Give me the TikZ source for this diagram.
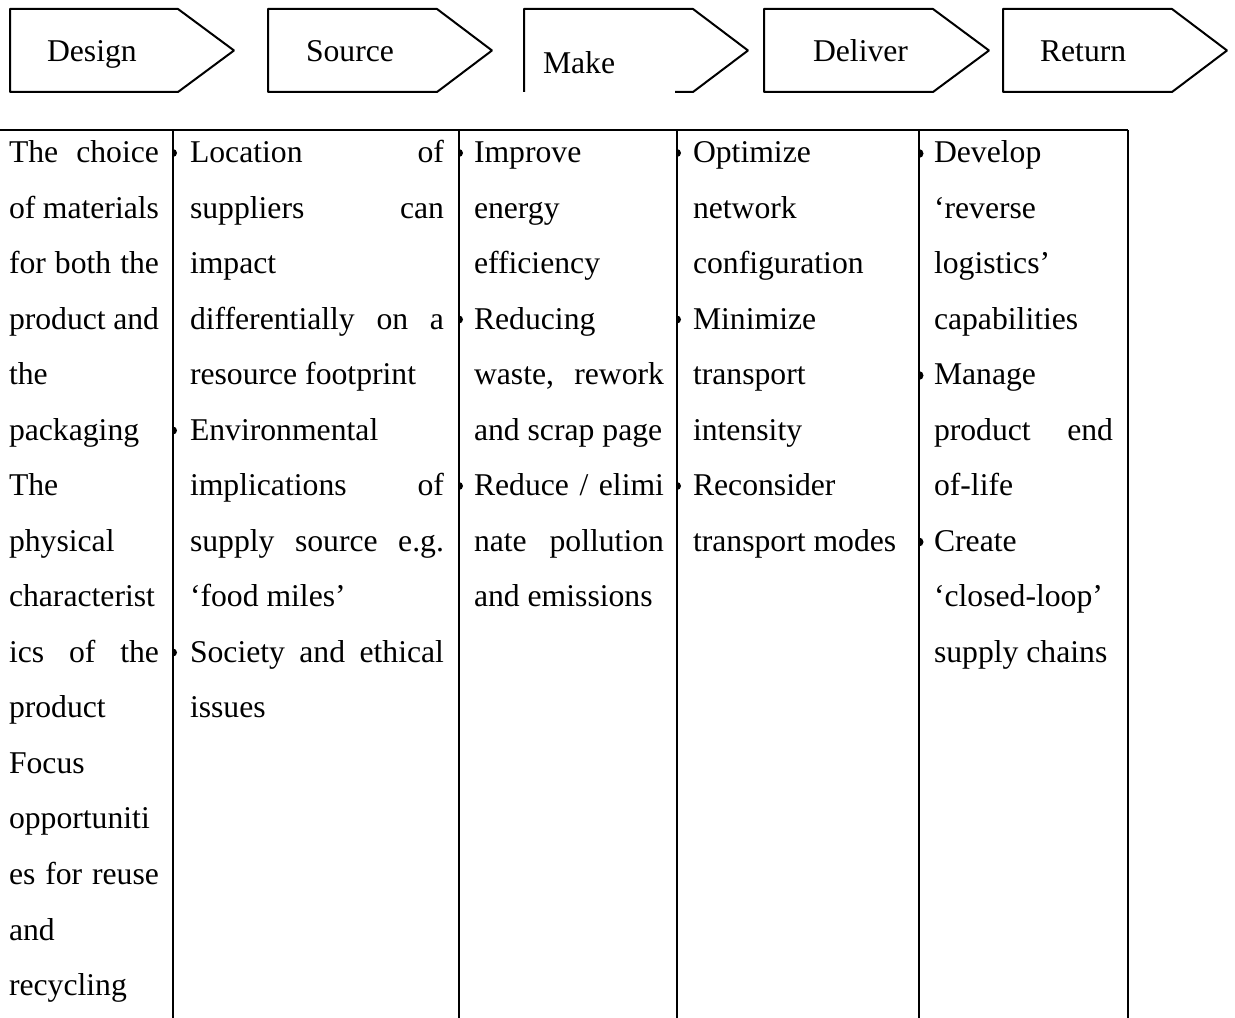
\documentclass[tikz,border=0pt]{standalone}
\usepackage{fontspec}
\setmainfont{Liberation Serif}
\usetikzlibrary{arrows}

\newcommand{\cellfont}{\fontsize{15.9}{19}\selectfont}
\newcommand{\fullline}[2]{\makebox[#1][s]{#2}}

\begin{document}
\begin{tikzpicture}[>=latex',line join=bevel,
  cell/.style={anchor=base west,inner sep=0pt,font=\cellfont},
  rule/.style={line width=1bp},
  dot/.style={fill=black}]
\pgfsetlinewidth{1bp}
\pgfsetcolor{black}
\useasboundingbox (0bp,0bp) rectangle (617.5bp,509bp);

% Step: Design
\draw (5bp,504.5bp) -- (89bp,504.5bp) -- (117bp,483.75bp) -- (89bp,463bp) -- (5bp,463bp) -- cycle;
\node[cell] (design) at (23bp,478bp) {Design};

% Step: Source
\draw (134bp,504.5bp) -- (218.5bp,504.5bp) -- (246bp,483.75bp) -- (218.5bp,463bp) -- (134bp,463bp) -- cycle;
\node[cell] (source) at (152.5bp,478bp) {Source};

% Step: Make
\draw (337.5bp,463bp) -- (346.5bp,463bp) -- (374bp,483.75bp) -- (346.5bp,504.5bp) -- (262bp,504.5bp) -- (262bp,463bp);
\node[cell] (make) at (271bp,472bp) {Make};

% Step: Deliver
\draw (382bp,504.5bp) -- (466.5bp,504.5bp) -- (494.5bp,483.75bp) -- (466.5bp,463bp) -- (382bp,463bp) -- cycle;
\node[cell] (deliver) at (406bp,478bp) {Deliver};

% Step: Return
\draw (501.5bp,504.5bp) -- (586bp,504.5bp) -- (613.5bp,483.75bp) -- (586bp,463bp) -- (501.5bp,463bp) -- cycle;
\node[cell] (return) at (519.5bp,478bp) {Return};

% Table rules
\draw[rule] (0bp,444bp) -- (564bp,444bp);
\draw[rule] (86.5bp,444bp) -- (86.5bp,0bp);
\draw[rule] (229.5bp,444bp) -- (229.5bp,0bp);
\draw[rule] (338.5bp,444bp) -- (338.5bp,0bp);
\draw[rule] (459.5bp,444bp) -- (459.5bp,0bp);
\draw[rule] (564bp,444bp) -- (564bp,0bp);

% Column: Design
\node[cell] (d1) at (4bp,427.5bp) {\fullline{75bp}{The choice}};
\node[cell] (d2) at (4bp,399.75bp) {\fullline{75bp}{of materials}};
\node[cell] (d3) at (4bp,372bp) {\fullline{75bp}{for both the}};
\node[cell] (d4) at (4bp,344.25bp) {\fullline{75bp}{product and}};
\node[cell] (d5) at (4bp,316.5bp) {the};
\node[cell] (d6) at (4bp,288.75bp) {packaging};
\node[cell] (d7) at (4bp,261bp) {The};
\node[cell] (d8) at (4bp,233.25bp) {physical};
\node[cell] (d9) at (4bp,205.5bp) {characterist};
\node[cell] (d10) at (4bp,177.75bp) {\fullline{75bp}{ics of the}};
\node[cell] (d11) at (4bp,150bp) {product};
\node[cell] (d12) at (4bp,122.25bp) {Focus};
\node[cell] (d13) at (4bp,94.5bp) {opportuniti};
\node[cell] (d14) at (4bp,66.75bp) {\fullline{75bp}{es for reuse}};
\node[cell] (d15) at (4bp,39bp) {and};
\node[cell] (d16) at (4bp,11.25bp) {recycling};

% Column: Source
\fill[dot] (86.5bp,434.5bp) arc[start angle=90,end angle=-90,radius=2bp] -- cycle;
\fill[dot] (86.5bp,295.75bp) arc[start angle=90,end angle=-90,radius=2bp] -- cycle;
\fill[dot] (86.5bp,184.75bp) arc[start angle=90,end angle=-90,radius=2bp] -- cycle;
\node[cell] (s1) at (94.5bp,427.5bp) {\fullline{127bp}{Location of}};
\node[cell] (s2) at (94.5bp,399.75bp) {\fullline{127bp}{suppliers can}};
\node[cell] (s3) at (94.5bp,372bp) {impact};
\node[cell] (s4) at (94.5bp,344.25bp) {\fullline{127bp}{differentially on a}};
\node[cell] (s5) at (94.5bp,316.5bp) {resource footprint};
\node[cell] (s6) at (94.5bp,288.75bp) {Environmental};
\node[cell] (s7) at (94.5bp,261bp) {\fullline{127bp}{implications of}};
\node[cell] (s8) at (94.5bp,233.25bp) {\fullline{127bp}{supply source e.g.}};
\node[cell] (s9) at (94.5bp,205.5bp) {‘food miles’};
\node[cell] (s10) at (94.5bp,177.75bp) {\fullline{127bp}{Society and ethical}};
\node[cell] (s11) at (94.5bp,150bp) {issues};

% Column: Make
\fill[dot] (229.5bp,434.5bp) arc[start angle=90,end angle=-90,radius=2bp] -- cycle;
\fill[dot] (229.5bp,351.25bp) arc[start angle=90,end angle=-90,radius=2bp] -- cycle;
\fill[dot] (229.5bp,268bp) arc[start angle=90,end angle=-90,radius=2bp] -- cycle;
\node[cell] (m1) at (236.5bp,427.5bp) {Improve};
\node[cell] (m2) at (236.5bp,399.75bp) {energy};
\node[cell] (m3) at (236.5bp,372bp) {efficiency};
\node[cell] (m4) at (236.5bp,344.25bp) {Reducing};
\node[cell] (m5) at (236.5bp,316.5bp) {\fullline{95bp}{waste, rework}};
\node[cell] (m6) at (236.5bp,288.75bp) {and scrap page};
\node[cell] (m7) at (236.5bp,261bp) {\fullline{95bp}{Reduce / elimi}};
\node[cell] (m8) at (236.5bp,233.25bp) {\fullline{95bp}{nate pollution}};
\node[cell] (m9) at (236.5bp,205.5bp) {and emissions};

% Column: Deliver
\fill[dot] (338.5bp,434.5bp) arc[start angle=90,end angle=-90,radius=2bp] -- cycle;
\fill[dot] (338.5bp,351.25bp) arc[start angle=90,end angle=-90,radius=2bp] -- cycle;
\fill[dot] (338.5bp,268bp) arc[start angle=90,end angle=-90,radius=2bp] -- cycle;
\node[cell] (v1) at (346bp,427.5bp) {Optimize};
\node[cell] (v2) at (346bp,399.75bp) {network};
\node[cell] (v3) at (346bp,372bp) {configuration};
\node[cell] (v4) at (346bp,344.25bp) {Minimize};
\node[cell] (v5) at (346bp,316.5bp) {transport};
\node[cell] (v6) at (346bp,288.75bp) {intensity};
\node[cell] (v7) at (346bp,261bp) {Reconsider};
\node[cell] (v8) at (346bp,233.25bp) {transport modes};

% Column: Return
\fill[dot] (459.5bp,434.5bp) arc[start angle=90,end angle=-90,radius=2.25bp] -- cycle;
\fill[dot] (459.5bp,323.5bp) arc[start angle=90,end angle=-90,radius=2.25bp] -- cycle;
\fill[dot] (459.5bp,240.25bp) arc[start angle=90,end angle=-90,radius=2.25bp] -- cycle;
\node[cell] (r1) at (466.5bp,427.5bp) {Develop};
\node[cell] (r2) at (466.5bp,399.75bp) {‘reverse};
\node[cell] (r3) at (466.5bp,372bp) {logistics’};
\node[cell] (r4) at (466.5bp,344.25bp) {capabilities};
\node[cell] (r5) at (466.5bp,316.5bp) {Manage};
\node[cell] (r6) at (466.5bp,288.75bp) {\fullline{89.5bp}{product end}};
\node[cell] (r7) at (466.5bp,261bp) {of-life};
\node[cell] (r8) at (466.5bp,233.25bp) {Create};
\node[cell] (r9) at (466.5bp,205.5bp) {‘closed-loop’};
\node[cell] (r10) at (466.5bp,177.75bp) {supply chains};

\end{tikzpicture}
\end{document}
